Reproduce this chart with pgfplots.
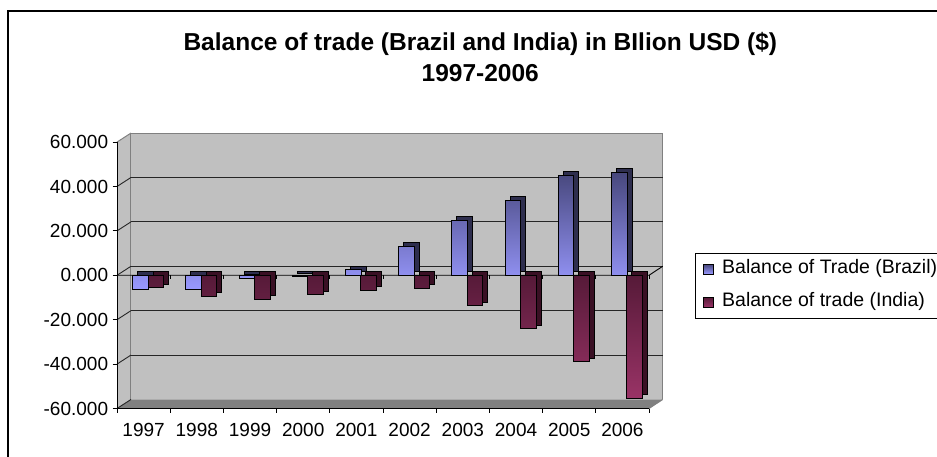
\documentclass[border=0pt]{standalone}
\usepackage{pgfplots}
\pgfplotsset{compat=1.18}
\usepackage{pgfplotstable}
\usepackage{fontspec}
\setmainfont{Liberation Sans}
\definecolor{wall}{HTML}{C0C0C0}
\definecolor{floorc}{HTML}{808080}
\definecolor{brzTop}{HTML}{47477C}
\definecolor{brzBot}{HTML}{9999FF}
\definecolor{brzSide}{HTML}{2E2E4E}
\definecolor{indTop}{HTML}{561A38}
\definecolor{indBot}{HTML}{993366}
\definecolor{indSide}{HTML}{3A1024}
\pgfplotsset{sqleg/.style={legend image code/.code={\draw[##1, draw=black, line width=0.6pt] (0pt,0pt) rectangle (9.5pt,9.5pt);}}}

\pgfplotstableread{
x brazil india
0 -6.4 -5.5
1 -6.5 -9.3
2 -1.2 -10.8
3 -0.7 -8.8
4 2.6 -6.6
5 13.1 -5.8
6 24.9 -13.6
7 33.8 -24.1
8 45.0 -38.8
9 46.5 -55.3
}\datatable

\begin{document}
\begin{tikzpicture}[x=1pt,y=1pt]
\useasboundingbox (0,0) rectangle (937,457);
\fill[white] (0,0) rectangle (937,457);
\draw[line width=1.8pt, black] (8.3,-20) -- (8.3,446) -- (960,446);
\node[font=\bfseries\fontsize{24.5}{29}\selectfont, anchor=base, inner sep=0pt] at (480.3,406) {Balance of trade (Brazil and India) in BIlion USD (\$)};
\node[font=\bfseries\fontsize{24.5}{29}\selectfont, anchor=base, inner sep=0pt] at (480.3,375) {1997-2006};
\begin{axis}[
  at={(117pt,48.5pt)}, anchor=south west,
  scale only axis, width=545.7pt, height=275.5pt,
  xmin=-0.5, xmax=9.757, ymin=-60, ymax=64.1,
  axis x line*=bottom, axis y line*=left,
  axis line style={draw=none},
  clip=false,
  tick align=outside,
  major tick length=4.5pt,
  tick style={black, line width=0.8pt},
  ytick={-60,-40,-20,0,20,40,60},
  yticklabels={-60.000,-40.000,-20.000,0.000,20.000,40.000,60.000},
  xtick={-0.5,0.5,1.5,2.5,3.5,4.5,5.5,6.5,7.5,8.5,9.5},
  xticklabels={1997,1998,1999,2000,2001,2002,2003,2004,2005,2006,{}},
  ticklabel style={font=\fontsize{19}{22}\selectfont, inner sep=0pt},
  yticklabel style={xshift=-4.2pt},
  xticklabel style={anchor=north, xshift=26.6pt, yshift=-10pt},
  legend style={at={(1.0592,0.566)}, anchor=north west, draw=black, line width=0.8pt, fill=white,
    font=\fontsize{19.5}{22}\selectfont, inner xsep=8pt, inner ysep=7pt, row sep=15pt,
    nodes={inner sep=0pt, text height=14pt, text depth=4pt, anchor=base west},
    /tikz/every odd column/.style={column sep=8.7pt}},
  legend cell align=left,
]
% walls
\fill[wall] (axis cs:-0.237,-55.93) rectangle (axis cs:9.757,64.1);
\fill[wall] (axis cs:-0.5,-60) -- (axis cs:-0.5,60) -- (axis cs:-0.237,64.07) -- (axis cs:-0.237,-55.93) -- cycle;
\fill[floorc] (axis cs:-0.5,-60) -- (axis cs:9.5,-60) -- (axis cs:9.757,-55.93) -- (axis cs:-0.237,-55.93) -- cycle;
\draw[floorc, line width=1pt] (axis cs:-0.237,-55.93) -- (axis cs:-0.237,64.07) -- (axis cs:9.757,64.07) -- (axis cs:9.757,-55.93);
\draw[floorc, line width=1pt] (axis cs:-0.5,60) -- (axis cs:-0.237,64.07);
\draw[floorc, line width=1pt] (axis cs:9.5,-60) -- (axis cs:9.757,-55.93);
% back gridlines
\draw[black!85, line width=0.9pt] (axis cs:-0.237,-35.93) -- (axis cs:9.757,-35.93);
\draw[black!85, line width=0.9pt] (axis cs:-0.237,-15.93) -- (axis cs:9.757,-15.93);
\draw[black!85, line width=0.9pt] (axis cs:-0.237,4.07) -- (axis cs:9.757,4.07);
\draw[black!85, line width=0.9pt] (axis cs:-0.237,24.07) -- (axis cs:9.757,24.07);
\draw[black!85, line width=0.9pt] (axis cs:-0.237,44.07) -- (axis cs:9.757,44.07);
% side wall diagonals
\draw[black!85, line width=0.9pt] (axis cs:-0.5,-40) -- (axis cs:-0.237,-35.93);
\draw[black!85, line width=0.9pt] (axis cs:-0.5,-20) -- (axis cs:-0.237,-15.93);
\draw[black!85, line width=0.9pt] (axis cs:-0.5,0) -- (axis cs:-0.237,4.07);
\draw[black!85, line width=0.9pt] (axis cs:-0.5,20) -- (axis cs:-0.237,24.07);
\draw[black!85, line width=0.9pt] (axis cs:-0.5,40) -- (axis cs:-0.237,44.07);
\draw[black!85, line width=0.9pt] (axis cs:-0.5,-60) -- (axis cs:-0.237,-55.93);
% front zero line and its ticks
\draw[black, line width=0.9pt] (axis cs:-0.5,0) -- (axis cs:9.5,0) -- (axis cs:9.757,4.07);
\draw[black, line width=0.8pt] (axis cs:0.5,0) -- ++(0pt,-3.5pt);
\draw[black, line width=0.8pt] (axis cs:1.5,0) -- ++(0pt,-3.5pt);
\draw[black, line width=0.8pt] (axis cs:2.5,0) -- ++(0pt,-3.5pt);
\draw[black, line width=0.8pt] (axis cs:3.5,0) -- ++(0pt,-3.5pt);
\draw[black, line width=0.8pt] (axis cs:4.5,0) -- ++(0pt,-3.5pt);
\draw[black, line width=0.8pt] (axis cs:5.5,0) -- ++(0pt,-3.5pt);
\draw[black, line width=0.8pt] (axis cs:6.5,0) -- ++(0pt,-3.5pt);
\draw[black, line width=0.8pt] (axis cs:7.5,0) -- ++(0pt,-3.5pt);
\draw[black, line width=0.8pt] (axis cs:8.5,0) -- ++(0pt,-3.5pt);
\draw[black, line width=0.8pt] (axis cs:9.5,0) -- ++(0pt,-3.5pt);
% front axis lines
\draw[black, line width=1pt] (axis cs:-0.5,60) -- (axis cs:-0.5,-60) -- (axis cs:9.5,-60);

% depth faces
\addplot[ybar, bar width=15.5pt, bar shift=-3.2pt, draw=black, line width=0.8pt, fill=brzSide,
  xshift=5pt, yshift=3.5pt, forget plot] table[x=x, y=brazil] {\datatable};
\addplot[ybar, bar width=15.5pt, bar shift=-3.2pt, draw=black, line width=0.8pt,
  top color=brzTop, bottom color=brzBot, sqleg]
  table[x=x, y=brazil] {\datatable};
\addlegendentry{Balance of Trade (Brazil)}
\addplot[ybar, bar width=15.5pt, bar shift=12.2pt, draw=black, line width=0.8pt, fill=indSide,
  xshift=5pt, yshift=3.5pt, forget plot] table[x=x, y=india] {\datatable};
\addplot[ybar, bar width=15.5pt, bar shift=12.2pt, draw=black, line width=0.8pt,
  top color=indTop, bottom color=indBot, sqleg]
  table[x=x, y=india] {\datatable};
\addlegendentry{Balance of trade (India)}
\end{axis}
\end{tikzpicture}
\end{document}
